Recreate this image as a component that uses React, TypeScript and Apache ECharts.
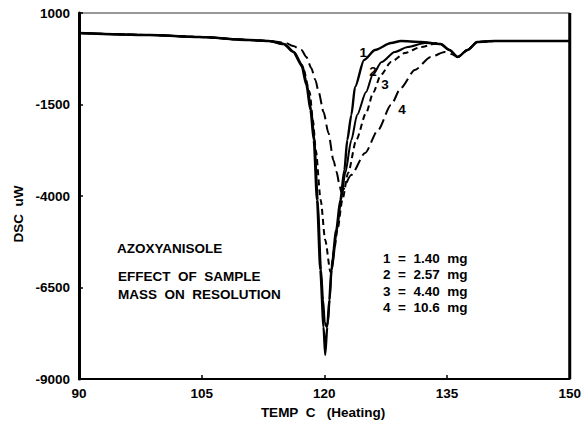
import { useEffect, useRef } from "react";
import * as echarts from "echarts";

const xTickValues = [90, 105, 120, 135, 150];
const yTickValues = [-9000, -6500, -4000, -1500, 1000];

const baselineStart: [number, number][] = [
  [90, 454], [98.6, 399], [104.7, 344], [110.8, 262], [113.2, 235],
];
const mergedTail: [number, number][] = [
  [134.2, 153], [135.3, -11], [136.3, -202], [137.5, -11], [138.7, 208], [140.8, 235], [150, 235],
];

const curve1Peak: [number, number][] = [
  [115.0, 153], [116.2, -65], [117.2, -421], [117.8, -967], [118.3, -1650], [118.7, -2470],
  [119.1, -4109], [119.5, -6021], [119.9, -7578], [120.1, -8343], [120.35, -7578], [120.6, -6841],
  [120.85, -6021], [121.45, -4928], [121.95, -4109], [122.45, -3289], [122.8, -2470], [123.3, -1787],
  [123.75, -1022], [124.85, -284], [126.2, -11], [128.15, 180], [129.35, 235], [131.8, 208],
];
const curve2Peak: [number, number][] = [
  [115.1, 153], [116.3, -65], [117.3, -421], [117.9, -967], [118.4, -1650], [118.8, -2470],
  [119.2, -4109], [119.6, -6021], [119.85, -6841], [120.05, -7450], [120.25, -7578], [120.45, -7450],
  [120.65, -6841], [120.9, -6021], [121.55, -4928], [122.05, -4109], [122.55, -3371], [123.3, -2470],
  [124.0, -1787], [125.1, -1158], [125.9, -694], [127.0, -339], [128.6, -65], [130.2, 71], [132.3, 180],
];
const curve3Peak: [number, number][] = [
  [115.2, 150], [116.3, -93], [117.4, -503], [118.2, -1158], [118.6, -1923], [118.95, -2743],
  [119.55, -4109], [120.1, -5202], [120.75, -6076], [121.2, -5475], [121.6, -4928], [122.2, -4109],
  [122.9, -3371], [123.9, -2470], [125.1, -1732], [126.0, -1158], [126.9, -694], [128.15, -339],
  [129.85, -93], [131.8, 71], [133.85, 180],
];
const curve4Peak: [number, number][] = [
  [114.4, 208], [115.3, 180], [116.2, 98], [117.2, -11], [117.8, -202], [118.4, -503], [118.9, -830],
  [119.3, -1158], [119.9, -1705], [120.5, -2278], [121.1, -3016], [121.5, -3344], [121.8, -3644],
  [122.07, -3890], [123.28, -3426], [124.98, -2825], [126.56, -2196], [128.14, -1513], [129.35, -1049],
  [131.05, -557], [133.0, -202], [134.7, -65], [135.5, -120],
];
const curve4Tail: [number, number][] = [
  [136.3, -202], [137.5, -11], [138.7, 208], [140.8, 235], [150, 235],
];

const curveLabels = ["1", "2", "3", "4"];
const curveLabelPos: [number, number][] = [
  [124.75, -90], [125.95, -612], [127.4, -967], [129.5, -1650],
];
const massLegend = ["1  =  1.40  mg", "2  =  2.57  mg", "3  =  4.40  mg", "4  =  10.6  mg"];
const noteLines = ["AZOXYANISOLE", "EFFECT  OF  SAMPLE", "MASS  ON  RESOLUTION"];
const xName = "TEMP  C   (Heating)";
const yName = "DSC  uW";

export default function App() {
  const ref = useRef<HTMLDivElement>(null);
  useEffect(() => {
    const chart = echarts.init(ref.current!, null, { renderer: "svg" });
    const family = "'Liberation Sans', Arial, sans-serif";
    const fontSize = 13.5;
    const curves = [
      [...baselineStart, ...curve1Peak, ...mergedTail],
      [...baselineStart, ...curve2Peak, ...mergedTail],
      [...baselineStart, ...curve3Peak, ...mergedTail],
      [...baselineStart, ...curve4Peak, ...curve4Tail],
    ];
    const styles: any[] = [
      { type: "solid", width: 2.4 },
      { type: "solid", width: 2 },
      { type: [6, 4], width: 2 },
      { type: [11, 5], width: 2 },
    ];
    const txt = (text: string, x: number, y: number, extra: any = {}) => ({
      type: "text",
      x,
      y,
      silent: true,
      z: 10,
      style: {
        text,
        fill: "#000",
        font: `bold ${fontSize}px ${family}`,
        verticalAlign: "middle",
        align: "left",
        ...extra,
      },
    });
    chart.setOption({
      animation: false,
      backgroundColor: "#fff",
      grid: { left: 79, right: 11, top: 13, bottom: 44, show: true, borderColor: "#333", borderWidth: 1 },
      xAxis: {
        type: "value",
        min: 90,
        max: 150,
        interval: 15,
        axisLine: { show: true, onZero: false, lineStyle: { color: "#000", width: 2 } },
        axisTick: { show: true, inside: true, length: 4, lineStyle: { color: "#000", width: 1.5 } },
        axisLabel: {
          color: "#000", fontWeight: "bold", fontSize, fontFamily: family, margin: 7,
          formatter: (v: number) => String(v),
        },
        splitLine: { show: false },
      },
      yAxis: {
        type: "value",
        min: -9000,
        max: 1000,
        axisLine: { show: true, onZero: false, lineStyle: { color: "#000", width: 3 } },
        axisTick: { show: true, inside: true, length: 4, customValues: yTickValues, lineStyle: { color: "#000", width: 1.5 } },
        axisLabel: {
          customValues: yTickValues, color: "#000", fontWeight: "bold", fontSize, fontFamily: family, margin: 9,
          formatter: (v: number) => String(v),
        },
        splitLine: { show: false },
      },
      series: curves.map((data, i) => ({
        type: "line",
        data,
        showSymbol: false,
        symbol: "none",
        smooth: 0.25,
        smoothMonotone: "x",
        silent: true,
        lineStyle: { color: "#000", ...styles[i] },
        z: 4 - i,
      })),
    });
    const toPx = (p: [number, number]) => chart.convertToPixel({ gridIndex: 0 }, p) as number[];
    const topRight = toPx([150, 1000]);
    const bottomRight = toPx([150, -9000]);
    chart.setOption({
      graphic: [
        {
          type: "line",
          silent: true,
          z: 5,
          shape: { x1: topRight[0], y1: topRight[1], x2: bottomRight[0], y2: bottomRight[1] },
          style: { stroke: "#000", lineWidth: 3 },
        },
        ...curveLabelPos.map((p, i) => {
          const q = toPx(p);
          return txt(curveLabels[i], q[0], q[1], { align: "center" });
        }),
        txt(noteLines[0], 117, 248),
        txt(noteLines[1], 118, 276),
        txt(noteLines[2], 118, 294),
        ...massLegend.map((t, i) => txt(t, 383, 258 + i * 16.6)),
        txt(xName, 323, 412, { align: "center" }),
        { ...txt(yName, 18, 214, { align: "center" }), rotation: Math.PI / 2 },
      ],
    });
    return () => chart.dispose();
  }, []);
  return <div ref={ref} style={{ position: "fixed", left: 0, top: 0, width: 584, height: 423 }} />;
}
